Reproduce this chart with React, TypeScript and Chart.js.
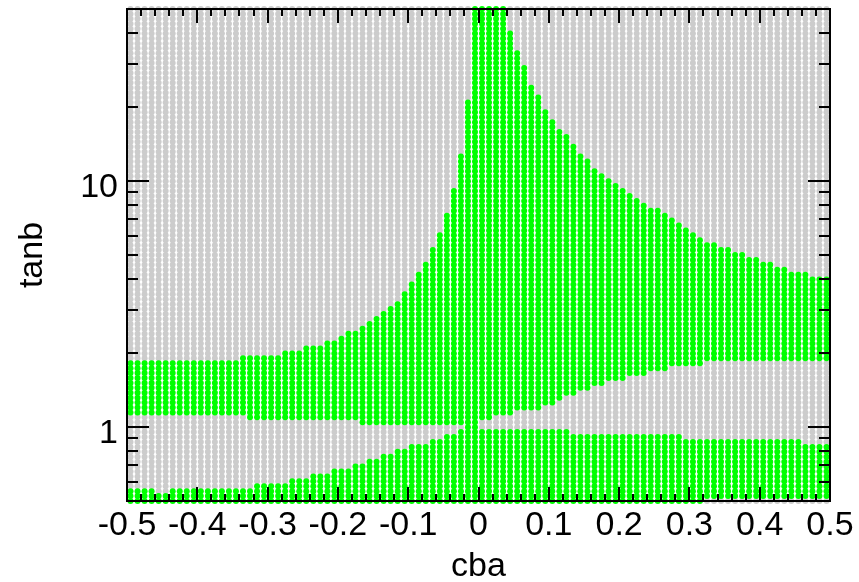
import React, { useEffect, useRef } from 'react';
import { Chart, registerables } from 'chart.js';

Chart.register(...registerables);

// ---- scan grid (cba columns centred at -0.495 ... 0.495, tanb rows log-spaced 0.5 ... 50) ----
const CBA_FIRST = -0.495;
const CBA_STEP = 0.01;
const CBA_COLUMNS = 100;
const TANB_FIRST = 0.5;
const TANB_LOG_STEP = 0.02;
const TANB_ROWS = 101;

// ---- allowed (green) regions, per cba column: lower band [lowBottom, lowTop], main band [midLow, midTop] ----
const lowBottom = [
  0.5, 0.5, 0.5, 0.5, 0.5, 0.5, 0.5, 0.5, 0.5, 0.5,
  0.5, 0.5, 0.5, 0.5, 0.5, 0.5, 0.5, 0.5, 0.5, 0.5,
  0.5, 0.5, 0.5, 0.5, 0.5, 0.5, 0.5, 0.5, 0.5, 0.5,
  0.5, 0.5, 0.5, 0.5, 0.5, 0.5, 0.5, 0.5, 0.5, 0.5,
  0.5, 0.5, 0.5, 0.5, 0.5, 0.5, 0.5, 0.5, 0.5, 0.5,
  0.5, 0.5, 0.5, 0.5, 0.5, 0.5, 0.5, 0.5, 0.5, 0.5,
  0.5, 0.5, 0.5, 0.5, 0.5, 0.5, 0.5, 0.5, 0.5, 0.5,
  0.5, 0.5, 0.5, 0.5, 0.5, 0.5, 0.5, 0.5, 0.5, 0.5,
  0.5, 0.5, 0.524, 0.524, 0.524, 0.524, 0.524, 0.524, 0.524, 0.524,
  0.524, 0.524, 0.524, 0.524, 0.524, 0.524, 0.524, 0.524, 0.524, 0.524,
];

const lowTop = [
  0.548, 0.548, 0.548, 0.548, 0.524, 0.524, 0.548, 0.548, 0.548, 0.548,
  0.548, 0.548, 0.548, 0.548, 0.548, 0.548, 0.548, 0.548, 0.574, 0.574,
  0.574, 0.574, 0.574, 0.601, 0.601, 0.601, 0.629, 0.629, 0.629, 0.659,
  0.659, 0.659, 0.69, 0.69, 0.723, 0.723, 0.757, 0.757, 0.792, 0.792,
  0.83, 0.83, 0.83, 0.869, 0.869, 0.91, 0.91, 0.953, 1.0, 1.0,
  0.953, 0.953, 0.953, 0.953, 0.953, 0.953, 0.953, 0.953, 0.953, 0.953,
  0.953, 0.953, 0.953, 0.91, 0.91, 0.91, 0.91, 0.91, 0.91, 0.91,
  0.91, 0.91, 0.91, 0.91, 0.91, 0.91, 0.91, 0.91, 0.91, 0.869,
  0.869, 0.869, 0.869, 0.869, 0.869, 0.869, 0.869, 0.869, 0.869, 0.869,
  0.869, 0.869, 0.869, 0.869, 0.869, 0.869, 0.83, 0.83, 0.83, 0.83,
];

const midLow = [
  1.15, 1.15, 1.15, 1.15, 1.15, 1.15, 1.15, 1.15, 1.15, 1.15,
  1.15, 1.15, 1.15, 1.15, 1.15, 1.15, 1.15, 1.09, 1.09, 1.09,
  1.09, 1.09, 1.09, 1.09, 1.09, 1.09, 1.09, 1.09, 1.09, 1.09,
  1.09, 1.09, 1.09, 1.05, 1.05, 1.05, 1.05, 1.05, 1.05, 1.05,
  1.05, 1.05, 1.05, 1.05, 1.05, 1.05, 1.05, 1.05, 1.0, 1.0,
  1.09, 1.09, 1.15, 1.15, 1.15, 1.2, 1.2, 1.2, 1.2, 1.26,
  1.26, 1.32, 1.38, 1.38, 1.44, 1.44, 1.51, 1.51, 1.58, 1.58,
  1.58, 1.66, 1.66, 1.66, 1.73, 1.73, 1.73, 1.82, 1.82, 1.82,
  1.82, 1.82, 1.9, 1.9, 1.9, 1.9, 1.9, 1.9, 1.9, 1.9,
  1.9, 1.9, 1.9, 1.9, 1.9, 1.9, 1.9, 1.9, 1.9, 1.9,
];

const midTop = [
  1.82, 1.82, 1.82, 1.82, 1.82, 1.82, 1.82, 1.82, 1.82, 1.82,
  1.82, 1.82, 1.82, 1.82, 1.82, 1.82, 1.9, 1.9, 1.9, 1.9,
  1.9, 1.9, 1.99, 1.99, 1.99, 2.08, 2.08, 2.08, 2.18, 2.18,
  2.29, 2.39, 2.39, 2.51, 2.62, 2.75, 2.88, 3.01, 3.16, 3.46,
  3.79, 4.16, 4.56, 5.24, 6.01, 7.23, 9.1, 12.6, 20.8, 50,
  50, 50, 50, 50, 39.7, 33.0, 28.8, 23.9, 21.8, 19.0,
  17.3, 15.8, 15.1, 13.8, 12.6, 12.0, 10.9, 10.4, 9.98, 9.53,
  9.1, 8.69, 8.3, 7.92, 7.57, 7.57, 7.23, 6.9, 6.59, 6.3,
  6.01, 5.74, 5.48, 5.48, 5.24, 5.24, 5.0, 5.0, 4.78, 4.78,
  4.56, 4.56, 4.36, 4.36, 4.16, 4.16, 4.16, 3.97, 3.97, 3.97,
];

// ---- axes ----
const xTickValues = [-0.5, -0.4, -0.3, -0.2, -0.1, 0, 0.1, 0.2, 0.3, 0.4, 0.5];
const xTickLabels = ['-0.5', '-0.4', '-0.3', '-0.2', '-0.1', '0', '0.1', '0.2', '0.3', '0.4', '0.5'];
const yTickValues = [1, 10];
const yTickLabels = ['1', '10'];
const yMinorValues = [0.6, 0.7, 0.8, 0.9, 2, 3, 4, 5, 6, 7, 8, 9, 20, 30, 40];
const xTitle = 'cba';
const yTitle = 'tanb';

const GREEN = 'rgb(0,255,0)';
const GREY = 'rgb(204,204,204)';
const FONT = '34px "Liberation Sans", Arial, Helvetica, sans-serif';

function buildPoints() {
  const green: { x: number; y: number }[] = [];
  const grey: { x: number; y: number }[] = [];
  const tol = 1.015;
  for (let i = 0; i < CBA_COLUMNS; i++) {
    const x = CBA_FIRST + i * CBA_STEP;
    for (let j = 0; j < TANB_ROWS; j++) {
      const t = TANB_FIRST * Math.pow(10, TANB_LOG_STEP * j);
      const inLow = t >= lowBottom[i] / tol && t <= lowTop[i] * tol;
      const inMid = t >= midLow[i] / tol && t <= midTop[i] * tol;
      (inLow || inMid ? green : grey).push({ x, y: t });
    }
  }
  return { green, grey };
}

const framePlugin = {
  id: 'rootFrame',
  afterDatasetsDraw(chart: any) {
    const { ctx, chartArea } = chart;
    const { left, right, top, bottom } = chartArea;
    const xs = chart.scales.x;
    const ys = chart.scales.y;
    ctx.save();
    ctx.strokeStyle = '#000';
    ctx.lineWidth = 2;
    ctx.lineCap = 'butt';
    ctx.beginPath();
    // x ticks (major every 0.1, minor every 0.02), bottom and top, pointing inward
    for (let k = 0; k <= 50; k++) {
      const v = -0.5 + k * 0.02;
      const px = Math.round(xs.getPixelForValue(v));
      const len = k % 5 === 0 ? 14 : 7;
      ctx.moveTo(px, bottom);
      ctx.lineTo(px, bottom - len);
      ctx.moveTo(px, top);
      ctx.lineTo(px, top + len);
    }
    const yTick = (v: number, len: number) => {
      const py = Math.round(ys.getPixelForValue(v));
      ctx.moveTo(left, py);
      ctx.lineTo(left + len, py);
      ctx.moveTo(right, py);
      ctx.lineTo(right - len, py);
    };
    yTickValues.forEach((v) => yTick(v, 22));
    yMinorValues.forEach((v) => yTick(v, 11));
    ctx.stroke();
    ctx.strokeRect(left, top, right - left, bottom - top);

    ctx.fillStyle = '#000';
    ctx.font = FONT;
    ctx.textBaseline = 'alphabetic';
    ctx.textAlign = 'center';
    xTickValues.forEach((v, i) => {
      ctx.fillText(xTickLabels[i], xs.getPixelForValue(v), bottom + 34);
    });
    ctx.textAlign = 'right';
    yTickValues.forEach((v, i) => {
      ctx.fillText(yTickLabels[i], left - 9, ys.getPixelForValue(v) + 16);
    });
    ctx.textAlign = 'center';
    ctx.fillText(xTitle, (left + right) / 2, 576);
    ctx.save();
    ctx.translate(42, (top + bottom) / 2);
    ctx.rotate(-Math.PI / 2);
    ctx.fillText(yTitle, 0, 0);
    ctx.restore();
    ctx.restore();
  },
};

export default function App() {
  const canvasRef = useRef<HTMLCanvasElement | null>(null);

  useEffect(() => {
    const canvas = canvasRef.current;
    if (!canvas) return;
    const { green, grey } = buildPoints();
    const chart = new Chart(canvas, {
      type: 'scatter',
      data: {
        datasets: [
          {
            data: green,
            backgroundColor: GREEN,
            pointRadius: 3,
            pointBorderWidth: 0,
            pointHoverRadius: 3,
            clip: false,
            order: 0,
          } as any,
          {
            data: grey,
            backgroundColor: GREY,
            pointRadius: 3,
            pointBorderWidth: 0,
            pointHoverRadius: 3,
            clip: false,
            order: 1,
          } as any,
        ],
      },
      options: {
        responsive: false,
        animation: false,
        events: [],
        layout: { padding: { top: 9, right: 29, left: 0, bottom: 0 } },
        plugins: { legend: { display: false }, tooltip: { enabled: false } },
        scales: {
          x: {
            type: 'linear',
            min: -0.5,
            max: 0.5,
            grid: { display: false, drawTicks: false },
            border: { display: false },
            ticks: { display: false },
            afterFit: (s: any) => {
              s.height = 81;
            },
          },
          y: {
            type: 'logarithmic',
            min: 0.5,
            max: 50,
            grid: { display: false, drawTicks: false },
            border: { display: false },
            ticks: { display: false },
            afterFit: (s: any) => {
              s.width = 127;
            },
          },
        },
      },
      plugins: [framePlugin],
    });
    return () => chart.destroy();
  }, []);

  return (
    <div style={{ position: 'fixed', left: 0, top: 0, width: 859, height: 582, background: '#fff' }}>
      <canvas ref={canvasRef} width={859} height={582} style={{ display: 'block' }} />
    </div>
  );
}
